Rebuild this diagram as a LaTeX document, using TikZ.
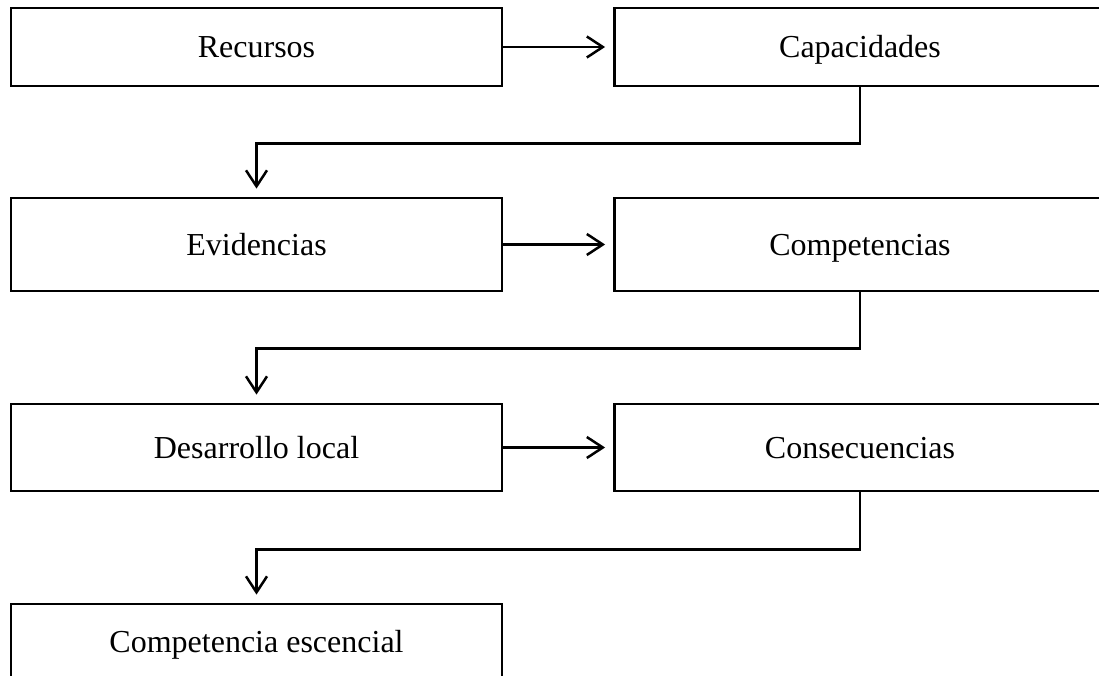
\documentclass[tikz,border=0pt]{standalone}
\usepackage{fontspec}
\setmainfont{Liberation Serif}
\usetikzlibrary{arrows.meta}
\begin{document}
\begin{tikzpicture}[x=1pt,y=1pt,
  box/.style={draw=black, line width=2.8pt, fill=white, minimum width=491pt, inner xsep=0pt, inner ysep=0pt,
    text height=21pt, text depth=0pt, font=\fontsize{32}{38}\selectfont},
  conn/.style={line width=2.5pt, -{Straight Barb[length=16pt,width=21pt]}, shorten >=8pt}
]
\clip (0,0) rectangle (1099,-676);
\fill[white] (0,0) rectangle (1099,-676);
% row 1
\node[box, minimum height=78pt] (a1) at (256.5,-47) {Recursos};
\node[box, minimum height=78pt] (b1) at (860,-47) {Capacidades};
% row 2
\node[box, minimum height=93pt] (a2) at (256.5,-244.5) {Evidencias};
\node[box, minimum height=93pt] (b2) at (860,-244.5) {Competencias};
% row 3
\node[box, minimum height=87pt] (a3) at (256.5,-447.5) {Desarrollo local};
\node[box, minimum height=87pt] (b3) at (860,-447.5) {Consecuencias};
% row 4
\node[box, text height=48pt, text depth=40pt, anchor=base] (a4) at (256.5,-652) {Competencia escencial};
% horizontal arrows
\draw[conn] (a1.east) -- (b1.west);
\draw[conn] (a2.east) -- (b2.west);
\draw[conn] (a3.east) -- (b3.west);
% elbow connectors
\draw[conn] (b1.south) -- ++(0,-56) -| (a2.north);
\draw[conn] (b2.south) -- ++(0,-56) -| (a3.north);
\draw[conn] (b3.south) -- ++(0,-57) -| (a4.north);
\end{tikzpicture}
\end{document}
